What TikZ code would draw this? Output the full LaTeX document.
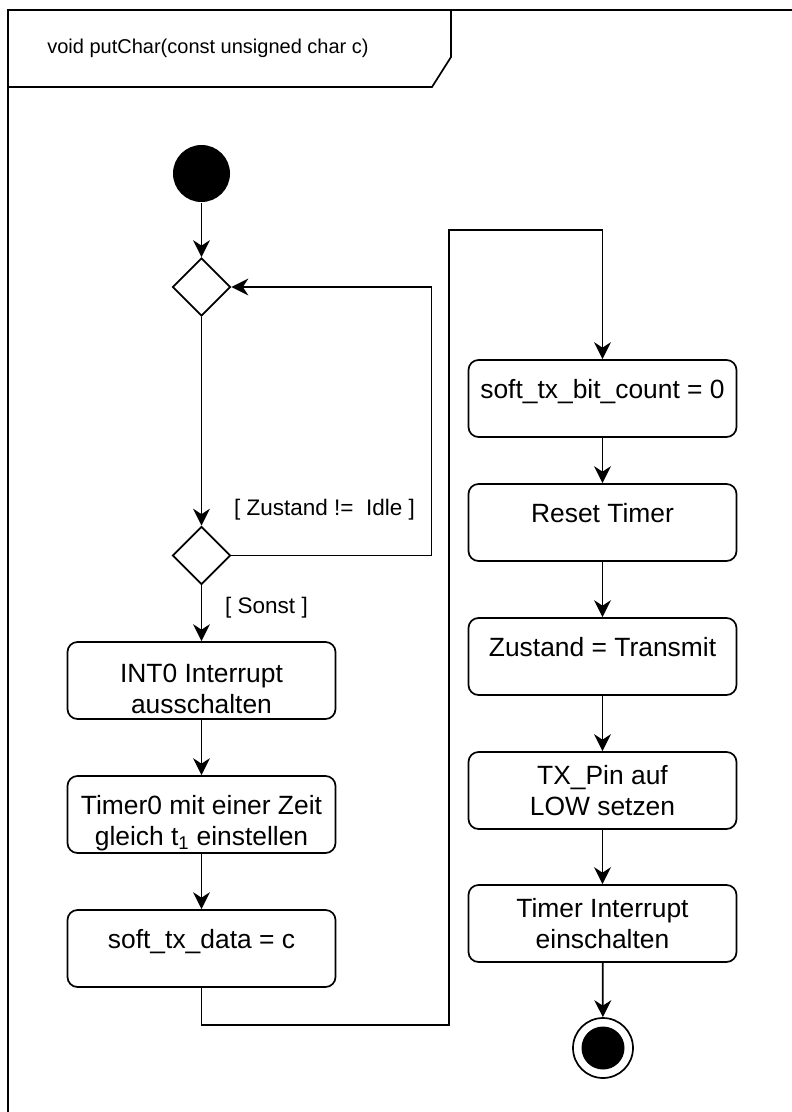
\documentclass[tikz,border=0pt]{standalone}
\usepackage{fontspec}
\setmainfont{Liberation Sans}
\usetikzlibrary{shapes.geometric,arrows.meta}
\begin{document}
\begin{tikzpicture}[x=1pt,y=-1pt,
  line width=1.7pt,
  arr/.style={-{Stealth[length=17pt,width=17pt,inset=5.5pt]}},
  act/.style={draw, rectangle, rounded corners=10pt, minimum width=268pt,
    minimum height=77pt, inner sep=0pt, align=center,
    font=\fontsize{26.4}{31}\selectfont},
  actone/.style={act, text height=19pt, text depth=19pt},
  branch/.style={draw, diamond, inner sep=0pt, minimum width=58pt, minimum height=58pt},
  startnode/.style={circle, fill=black, inner sep=0pt, minimum size=57pt},
  endnode/.style={circle, draw, inner sep=0pt, minimum size=60pt,
    path picture={\fill (path picture bounding box.center) circle (21.5pt);}},
  guard/.style={font=\fontsize{22.5}{27}\selectfont, inner sep=0pt},
  title/.style={font=\fontsize{20}{24}\selectfont, inner sep=0pt}
]
\clip (0,0) rectangle (792,1112);

% activity frame and its name tab
\draw (8,1130) -- (8,10) -- (800,10);
\draw (8,87) -- (432,87) -- (451,57) -- (451,10);
\node[title] (fname) at (208,48) {void putChar(const unsigned char c)};

% left column
\node[startnode] (start) at (201.5,173.5) {};
\node[branch] (merge) at (201.5,287) {};
\node[branch] (check) at (201.5,555.5) {};
\node[act, text height=66pt, text depth=0pt] (int0) at (201.5,680.5) {INT0 Interrupt\\ausschalten};
\node[act, text height=66pt, text depth=5pt] (timer0) at (201.5,814.5) {Timer0 mit einer Zeit\\gleich t\textsubscript{1} einstellen};
\node[actone] (data) at (201.5,948.5) {soft\_tx\_data = c};

% right column
\node[actone] (bitc) at (602.5,398.5) {soft\_tx\_bit\_count = 0};
\node[actone] (reset) at (602.5,522.5) {Reset Timer};
\node[actone] (state) at (602.5,656.5) {Zustand = Transmit};
\node[act] (txpin) at (602.5,790.5) {TX\_Pin auf\\LOW setzen};
\node[act] (tint) at (602.5,923.5) {Timer Interrupt\\einschalten};
\node[endnode] (stop) at (603,1048) {};

% guards
\node[guard] (gbusy) at (324.5,510) {[ Zustand !=\ \ Idle ]};
\node[guard] (gelse) at (266.5,608) {[ Sonst ]};

% routing points of the long connector
\coordinate (lowturn) at (449,1025);
\coordinate (highturn) at (449,230);

% flow
\draw[arr] (start) -- (merge);
\draw[arr] (merge) -- (check);
\draw[arr] (check.east) -- ++(200,0) |- (merge.east);
\draw[arr] (check) -- (int0);
\draw[arr] (int0) -- (timer0);
\draw[arr] (timer0) -- (data);
\draw[arr] (data.south) |- (lowturn) -- (highturn) -| (bitc.north);
\draw[arr] (bitc) -- (reset);
\draw[arr] (reset) -- (state);
\draw[arr] (state) -- (txpin);
\draw[arr] (txpin) -- (tint);
\draw[arr] (tint) -- (stop);
\end{tikzpicture}
\end{document}
